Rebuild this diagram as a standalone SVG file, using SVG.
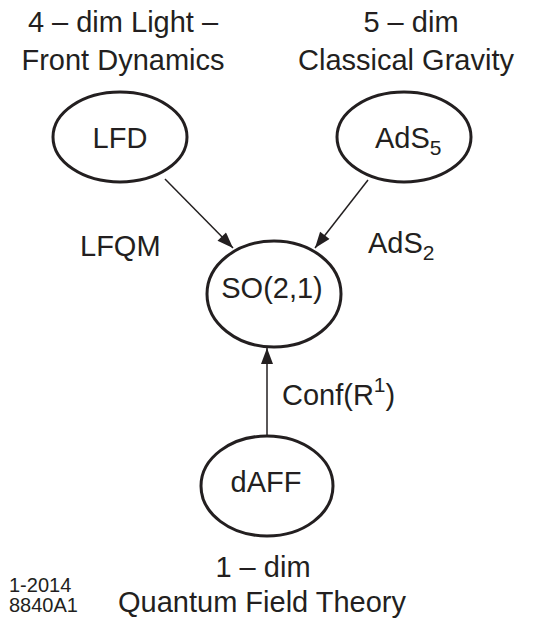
<svg xmlns="http://www.w3.org/2000/svg" width="537" height="618" viewBox="0 0 537 618">
<style>
text{font-family:"Liberation Sans",Arial,sans-serif;fill:#231f20;font-size:29px}
.c{text-anchor:middle}
.node{fill:#fff;stroke:#231f20;stroke-width:3}
.edge{stroke:#231f20;stroke-width:1.5;fill:none;marker-end:url(#ah)}
.small{font-size:20px}
</style>
<defs>
<marker id="ah" viewBox="0 0 16 12" refX="16" refY="6" markerWidth="17" markerHeight="12" markerUnits="userSpaceOnUse" orient="auto">
<path d="M0,0 L16,6 L0,12 Z" fill="#231f20"/>
</marker>
</defs>
<rect width="537" height="618" fill="#fff"/>
<g id="connectors">
<line class="edge" x1="165" y1="179" x2="233" y2="248"/>
<line class="edge" x1="368" y1="180" x2="315" y2="248"/>
<line class="edge" x1="267" y1="436" x2="267" y2="348"/>
</g>
<g id="LFD">
<ellipse class="node" cx="120" cy="137" rx="67" ry="45"/>
<text class="c" x="120" y="148">LFD</text>
</g>
<g id="AdS5">
<ellipse class="node" cx="404" cy="137" rx="67" ry="45"/>
<text x="375" y="148">AdS<tspan font-size="21" dy="7">5</tspan></text>
</g>
<g id="SO21">
<ellipse class="node" cx="274" cy="294" rx="67" ry="53"/>
<text class="c" x="272" y="298">SO(2,1)</text>
</g>
<g id="dAFF">
<ellipse class="node" cx="267" cy="486" rx="66" ry="50"/>
<text class="c" x="266" y="492">dAFF</text>
</g>
<g id="labels">
<text class="c" x="123" y="32">4 – dim Light –</text>
<text class="c" x="123" y="70">Front Dynamics</text>
<text class="c" x="411" y="32">5 – dim</text>
<text class="c" x="406" y="70">Classical Gravity</text>
<text x="80" y="256">LFQM</text>
<text x="368" y="253">AdS<tspan font-size="21" dy="7">2</tspan></text>
<text x="282" y="405">Conf(R<tspan font-size="21" dy="-13">1</tspan><tspan dy="13">)</tspan></text>
<text class="c" x="263" y="577">1 – dim</text>
<text class="c" x="262" y="612">Quantum Field Theory</text>
<text class="small" x="9" y="592">1-2014</text>
<text class="small" x="9" y="612">8840A1</text>
</g>
</svg>
